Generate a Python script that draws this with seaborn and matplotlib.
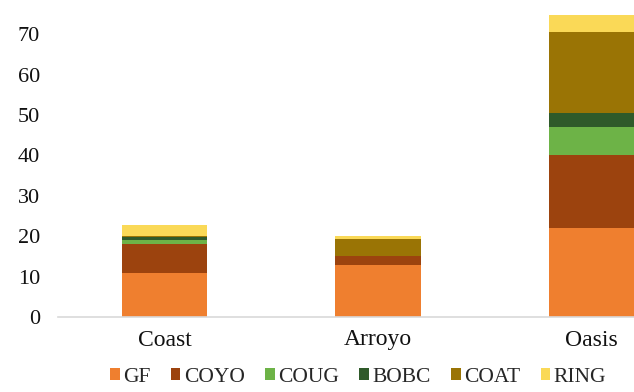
import numpy as np
import pandas as pd
import seaborn as sns
import matplotlib
matplotlib.use("Agg")
import matplotlib.pyplot as plt
from matplotlib.patches import Patch

sites = ["Coast", "Arroyo", "Oasis"]
species = ["GF", "COYO", "COUG", "BOBC", "COAT", "RING"]
gf = [11, 13, 22]
coyo = [7, 2, 18]
coug = [1, 0, 7]
bobc = [0.8, 0, 3.6]
coat = [0.3, 4.4, 20]
ring = [2.7, 0.7, 4.3]
colors = ["#EF7F2F", "#9C430E", "#6DB347", "#2F5A2A", "#9A7405", "#FAD957"]
yticks = [0, 10, 20, 30, 40, 50, 60, 70]

sns.set_theme(style="white")
plt.rcParams["font.family"] = ["Liberation Serif", "DejaVu Serif"]

W, H = 634, 392
fig = plt.figure(figsize=(W / 100, H / 100), dpi=100)
ax = fig.add_axes([58 / W, 1 - 317 / H, (W - 58) / W, 315 / H])

series = [gf, coyo, coug, bobc, coat, ring]
cum = np.cumsum(np.array(series), axis=0)
# draw from top layer down so lower layers overlay
for i in range(len(species) - 1, -1, -1):
    df = pd.DataFrame({"site": sites, "value": cum[i]})
    sns.barplot(data=df, x="site", y="value", color=colors[i], width=0.4,
                saturation=1, ax=ax, linewidth=0, edgecolor="none")

ax.set_xlim(-0.5, 2.2)
ax.set_ylim(0, 78)
ax.set_yticks(yticks)
ax.set_yticklabels([str(t) for t in yticks])
ax.set_xlabel("")
ax.set_ylabel("")
for s in ["top", "right", "left"]:
    ax.spines[s].set_visible(False)
ax.spines["bottom"].set_color("#D9D9D9")
ax.spines["bottom"].set_linewidth(1.2)
ax.tick_params(axis="y", length=0, pad=13, labelsize=16, colors="#111111")
ax.tick_params(axis="x", length=0, pad=9, labelsize=17, colors="#111111")

handles = [Patch(facecolor=c, edgecolor="none") for c in colors]
fig.legend(handles, species, loc="center", bbox_to_anchor=(358 / W, 1 - 377 / H),
           ncol=6, frameon=False, fontsize=15.5, handlelength=0.45, handleheight=0.45,
           handletextpad=0.15, columnspacing=0.95, borderpad=0)

fig.savefig("out.png", dpi=100)
